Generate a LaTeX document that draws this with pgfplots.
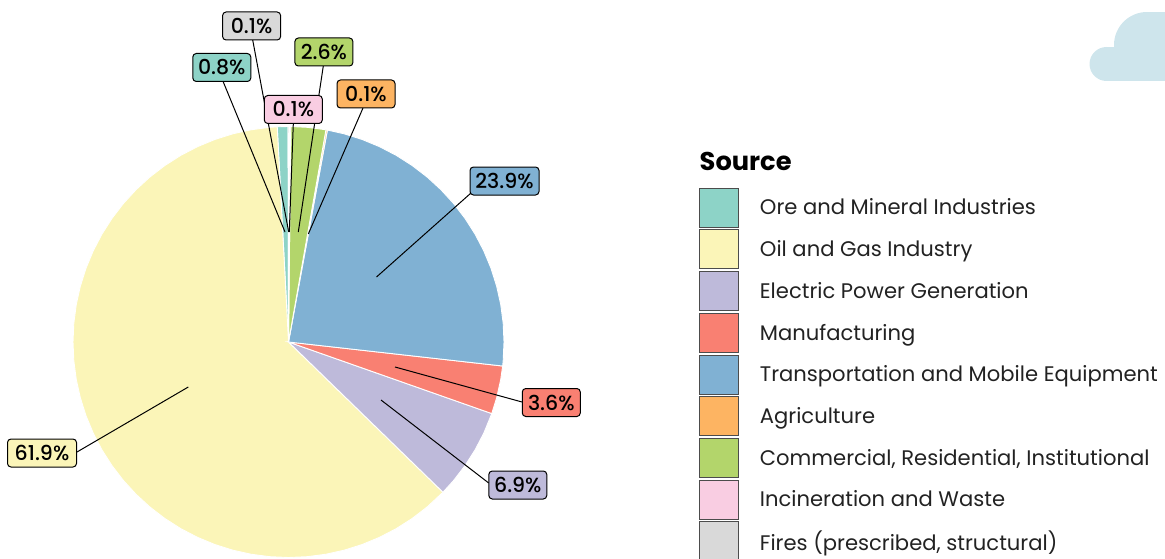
\documentclass[border=0pt]{standalone}
\usepackage{pgfplots}
\pgfplotsset{compat=1.18}
\usepackage{fontspec}
\setmainfont{Poppins}
\newfontfamily\labfont{Poppins Medium}
\definecolor{cOre}{HTML}{8DD3C7}
\definecolor{cOil}{HTML}{FBF5B8}
\definecolor{cEle}{HTML}{BEBADA}
\definecolor{cMan}{HTML}{F98072}
\definecolor{cTra}{HTML}{80B1D3}
\definecolor{cAgr}{HTML}{FDB462}
\definecolor{cCom}{HTML}{B3D56B}
\definecolor{cInc}{HTML}{F9CDE2}
\definecolor{cFir}{HTML}{D9D9D9}
\definecolor{cCloud}{HTML}{CEE5EC}
\definecolor{cText}{HTML}{222222}
\tikzset{lab/.style={draw=black,line width=1pt,rounded corners=3.5pt,inner sep=0pt,minimum width=58pt,minimum height=28pt,font=\labfont\fontsize{20.5}{22}\selectfont,text=black}}
\pgfplotsset{wedge/.style={draw=white,line width=0.9pt,fill=#1,data cs=polar},
 leader/.style={black,line width=1pt,forget plot}}
\begin{document}
\begin{tikzpicture}[x=1pt,y=1pt]
\useasboundingbox (0,0) rectangle (1165,558);
\clip (0,0) rectangle (1165,558);
\fill[cCloud] (1147,513) circle (33);
\fill[cCloud] (1106.5,494) circle (17);
\fill[cCloud] (1106.5,477) rectangle (1170,511);
\fill[cCloud] (1147,477) rectangle (1170,546);
\begin{axis}[x=1pt,y=1pt,at={(288.5pt,216pt)},anchor=origin,
 xmin=-288.5,xmax=876.5,ymin=-216,ymax=342,hide axis,clip=false,
 legend cell align=left,
 legend style={at={(0.6,0.6636)},anchor=north west,draw=none,fill=none,inner sep=0pt,outer sep=0pt,
   row sep=1.8pt,font=\fontsize{21.1}{23}\selectfont\color{cText},
   nodes={inner sep=0pt,outer sep=0pt,anchor=west},
   /tikz/column 1/.style={column sep=21pt}},
 legend image code/.code={\draw[#1,draw=black!70,line width=0.9pt] (0pt,-19.5pt) rectangle (39pt,19.5pt);}]

\addplot[wedge=cOre] coordinates {(93.0,0) (93.0,215.5) (90.1,215.5)} -- cycle;
\addlegendentry{Ore and Mineral Industries}
\addplot[wedge=cOil] coordinates {(-44.2,0) (-44.2,215.5) (-50,215.5) (-55,215.5) (-60,215.5) (-65,215.5) (-70,215.5) (-75,215.5) (-80,215.5) (-85,215.5) (-90,215.5) (-95,215.5) (-100,215.5) (-105,215.5) (-110,215.5) (-115,215.5) (-120,215.5) (-125,215.5) (-130,215.5) (-135,215.5) (-140,215.5) (-145,215.5) (-150,215.5) (-155,215.5) (-160,215.5) (-165,215.5) (-170,215.5) (-175,215.5) (-180,215.5) (-185,215.5) (-190,215.5) (-195,215.5) (-200,215.5) (-205,215.5) (-210,215.5) (-215,215.5) (-220,215.5) (-225,215.5) (-230,215.5) (-235,215.5) (-240,215.5) (-245,215.5) (-250,215.5) (-255,215.5) (-260,215.5) (-265,215.5) (-267,215.5)} -- cycle;
\addlegendentry{Oil and Gas Industry}
\addplot[wedge=cEle] coordinates {(-19.4,0) (-19.4,215.5) (-25,215.5) (-30,215.5) (-35,215.5) (-40,215.5) (-44.2,215.5)} -- cycle;
\addlegendentry{Electric Power Generation}
\addplot[wedge=cMan] coordinates {(-6.4,0) (-6.4,215.5) (-10,215.5) (-15,215.5) (-19.4,215.5)} -- cycle;
\addlegendentry{Manufacturing}
\addplot[wedge=cTra] coordinates {(79.6,0) (79.6,215.5) (75,215.5) (70,215.5) (65,215.5) (60,215.5) (55,215.5) (50,215.5) (45,215.5) (40,215.5) (35,215.5) (30,215.5) (25,215.5) (20,215.5) (15,215.5) (10,215.5) (5,215.5) (0,215.5) (-5,215.5) (-6.4,215.5)} -- cycle;
\addlegendentry{Transportation and Mobile Equipment}
\addplot[wedge=cAgr] coordinates {(80.0,0) (80.0,215.5) (79.6,215.5)} -- cycle;
\addlegendentry{Agriculture}
\addplot[wedge=cCom] coordinates {(89.4,0) (89.4,215.5) (85,215.5) (80,215.5)} -- cycle;
\addlegendentry{Commercial, Residential, Institutional}
\addplot[wedge=cInc] coordinates {(89.74,0) (89.74,215.5) (89.4,215.5)} -- cycle;
\addlegendentry{Incineration and Waste}
\addplot[wedge=cFir] coordinates {(90.1,0) (90.1,215.5) (89.74,215.5)} -- cycle;
\addlegendentry{Fires (prescribed, structural)}

\addplot[leader] coordinates {(-65.2,260) (-3.5,110)};
\addplot[leader] coordinates {(-35.8,302) (0.2,110)};
\addplot[leader] coordinates {(34.8,276) (9.8,110)};
\addplot[leader] coordinates {(4.8,218) (0.8,110)};
\addplot[leader] coordinates {(74.5,234) (19.8,108)};
\addplot[leader] coordinates {(182.5,149) (88,65)};
\addplot[leader] coordinates {(233.5,-60) (106.5,-25)};
\addplot[leader] coordinates {(200.2,-141) (92.5,-58)};
\addplot[leader] coordinates {(-211.5,-110) (-100.2,-45)};

\node[lab,fill=cFir] at (axis cs:-36.9,316) {0.1\%};
\node[lab,fill=cOre] at (axis cs:-66.7,274.5) {0.8\%};
\node[lab,fill=cCom] at (axis cs:35.4,290) {2.6\%};
\node[lab,fill=cAgr] at (axis cs:77.5,248) {0.1\%};
\node[lab,fill=cInc] at (axis cs:4.8,232.5) {0.1\%};
\node[lab,fill=cTra,minimum width=69pt] at (axis cs:216,161) {23.9\%};
\node[lab,fill=cMan] at (axis cs:262.8,-60.5) {3.6\%};
\node[lab,fill=cEle] at (axis cs:229.3,-143) {6.9\%};
\node[lab,fill=cOil,minimum width=69pt] at (axis cs:-246.5,-111) {61.9\%};
\node[anchor=west,inner sep=0pt,font=\fontsize{25.7}{28}\selectfont\bfseries,text=black] at (axis cs:411,181) {Source};
\end{axis}
\end{tikzpicture}
\end{document}
